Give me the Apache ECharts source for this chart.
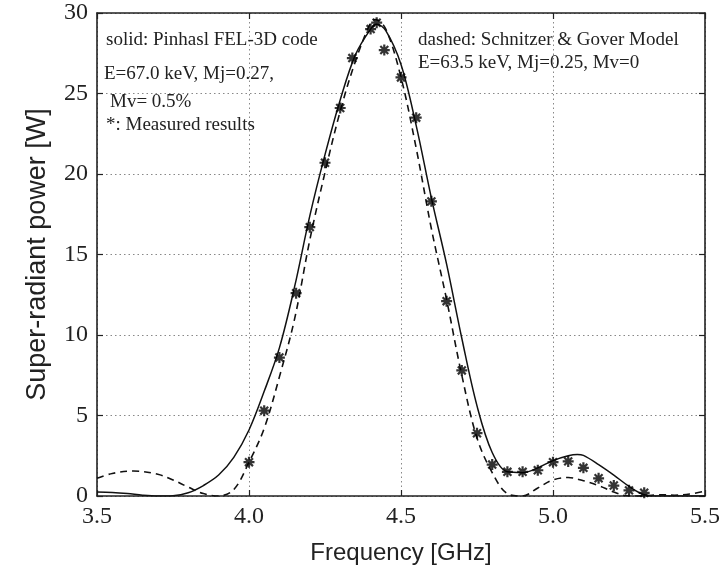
<!DOCTYPE html>
<html>
<head>
<meta charset="utf-8">
<script src="https://cdn.jsdelivr.net/npm/echarts@6/dist/echarts.min.js"></script>
<style>html,body{margin:0;padding:0;background:#fff;}#c{width:723px;height:574px;}</style>
</head>
<body>
<div id="c"></div>
<script>
// X axis ticks (GHz) and Y axis ticks (W)
const xTicks = [3.5, 4.0, 4.5, 5.0, 5.5];
const yTicks = [0, 5, 10, 15, 20, 25, 30];

// Solid: Pinhasl FEL-3D code
const solidFreq = [3.5,3.55,3.6,3.65,3.7,3.75,3.8,3.85,3.9,3.95,4.0,4.05,4.1,4.15,4.2,4.25,4.3,4.35,4.4,4.42,4.45,4.5,4.55,4.6,4.65,4.7,4.75,4.8,4.85,4.9,4.95,5.0,5.05,5.08,5.1,5.15,5.2,5.25,5.3,5.35,5.4,5.45,5.5];
const solidPower = [0.25,0.22,0.15,0.05,0,0.02,0.2,0.65,1.3,2.4,4.1,6.5,9.2,13.0,17.4,21.2,24.6,27.4,29.0,29.3,28.9,26.8,23.0,18.5,14.4,9.8,5.6,2.7,1.5,1.45,1.75,2.2,2.5,2.58,2.52,1.95,1.3,0.6,0.08,0,0,0,0];

// Dashed: Schnitzer & Gover Model
const dashedFreq = [3.5,3.55,3.62,3.7,3.75,3.8,3.85,3.9,3.95,4.0,4.05,4.1,4.15,4.2,4.25,4.3,4.35,4.4,4.415,4.45,4.5,4.55,4.6,4.65,4.7,4.75,4.8,4.85,4.9,4.95,5.0,5.05,5.1,5.15,5.2,5.25,5.3,5.35,5.4,5.45,5.5];
const dashedPower = [1.1,1.4,1.55,1.35,1.0,0.55,0.15,0,0.4,2.1,4.2,7.4,11.0,15.9,20.1,23.9,27.0,29.4,29.6,29.0,26.0,21.6,16.6,12.2,7.5,3.6,1.45,0.15,0,0.5,1.0,1.15,0.95,0.65,0.25,0,0,0.08,0.05,0.12,0.3];

// Measured results (*)
const measFreq = [4.0,4.05,4.1,4.155,4.2,4.25,4.3,4.34,4.4,4.42,4.445,4.5,4.55,4.6,4.65,4.7,4.75,4.8,4.85,4.9,4.95,5.0,5.05,5.1,5.15,5.2,5.25,5.3];
const measPower = [2.1,5.3,8.6,12.6,16.7,20.7,24.1,27.2,29.0,29.4,27.7,26.0,23.5,18.3,12.1,7.8,3.9,1.95,1.5,1.5,1.6,2.1,2.15,1.75,1.1,0.65,0.35,0.2];

const annotLeft = ["solid: Pinhasl FEL-3D code", "E=67.0 keV, Mj=0.27,", "Mv= 0.5%", "*: Measured results"];
const annotRight = ["dashed: Schnitzer & Gover Model", "E=63.5 keV, Mj=0.25, Mv=0"];

const zip = (a, b) => a.map((v, i) => [v, b[i]]);
const serif = '"Liberation Serif", "DejaVu Serif", serif';
const sans = '"Liberation Sans", Arial, sans-serif';

const chart = echarts.init(document.getElementById('c'), null, {renderer: 'canvas'});
const dotted = {show: true, lineStyle: {color: '#888', width: 1, type: [1.5, 3]}};
const baseLine = {show: true, onZero: false, lineStyle: {color: '#222', width: 1.6}};
const tick = {show: true, inside: true, length: 6, lineStyle: {color: '#222', width: 1.2}};

const option = {
  animation: false,
  backgroundColor: '#fff',
  grid: {left: 97, right: 17, top: 13, bottom: 78, containLabel: false},
  xAxis: [{
    type: 'value', min: xTicks[0], max: xTicks[xTicks.length - 1], interval: 0.5,
    position: 'bottom', axisLine: baseLine, axisTick: tick, splitLine: dotted,
    axisLabel: {formatter: v => v.toFixed(1), fontFamily: serif, fontSize: 24, color: '#222', margin: 9, showMaxLabel: true, showMinLabel: true},
    name: 'Frequency [GHz]', nameLocation: 'middle', nameGap: 45,
    nameTextStyle: {fontFamily: sans, fontSize: 24, color: '#222'}
  }, {
    type: 'value', min: xTicks[0], max: xTicks[xTicks.length - 1], interval: 0.5,
    position: 'top', axisLine: baseLine, axisTick: tick, splitLine: {show: false}, axisLabel: {show: false}
  }],
  yAxis: [{
    type: 'value', min: yTicks[0], max: yTicks[yTicks.length - 1], interval: 5,
    position: 'left', axisLine: baseLine, axisTick: tick, splitLine: dotted,
    axisLabel: {fontFamily: serif, fontSize: 24, color: '#222', margin: 9},
    name: 'Super-radiant power [W]', nameLocation: 'middle', nameGap: 46, nameRotate: 90,
    nameTextStyle: {fontFamily: sans, fontSize: 27, color: '#222'}
  }, {
    type: 'value', min: yTicks[0], max: yTicks[yTicks.length - 1], interval: 5,
    position: 'right', axisLine: baseLine, axisTick: tick, splitLine: {show: false}, axisLabel: {show: false}
  }],
  series: [{
    name: 'Pinhasl FEL-3D code', type: 'line', data: zip(solidFreq, solidPower),
    smooth: 0.35, showSymbol: false, clip: true,
    lineStyle: {color: '#111', width: 1.5}, z: 3
  }, {
    name: 'Schnitzer & Gover Model', type: 'line', data: zip(dashedFreq, dashedPower),
    smooth: 0.35, showSymbol: false, clip: true,
    lineStyle: {color: '#111', width: 1.6, type: [7, 5]}, z: 3
  }, {
    name: 'Measured results', type: 'scatter', data: zip(measFreq, measPower),
    symbol: 'path://M0,-5L0,5M-5,0L5,0M-3.6,-3.6L3.6,3.6M-3.6,3.6L3.6,-3.6',
    symbolSize: 11,
    itemStyle: {color: 'none', borderColor: '#000', borderWidth: 2.2}, z: 4
  }],
  graphic: [
    ...annotLeft.map((t, i) => ({
      type: 'text', z: 10,
      style: {text: t, x: [106, 104, 110, 106][i], y: [40, 74, 102, 125][i], font: '19px ' + serif, fill: '#222', verticalAlign: 'middle'}
    })),
    ...annotRight.map((t, i) => ({
      type: 'text', z: 10,
      style: {text: t, x: 418, y: [40, 63][i], font: '19px ' + serif, fill: '#222', verticalAlign: 'middle'}
    }))
  ]
};
chart.setOption(option);
</script>
</body>
</html>
